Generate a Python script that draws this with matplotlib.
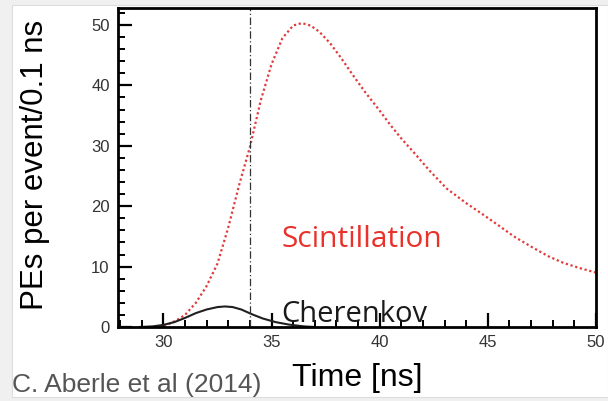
import matplotlib.pyplot as plt
from matplotlib.patches import Rectangle
from matplotlib.ticker import MultipleLocator

# scintillation pulse
scint_t = [29.8, 30.2, 30.6, 31.0, 31.5, 32.0, 32.5, 33.0, 33.5, 34.0, 34.5, 35.0,
           35.5, 36.0, 36.4, 36.8, 37.2, 37.7, 38.2, 38.7, 39.3, 40.0, 40.5, 41.0,
           41.6, 42.3, 43.1, 44.0, 44.7, 45.5, 46.2, 47.0, 47.8, 48.5, 49.2, 50.0]
scint_y = [0.0, 0.4, 1.1, 2.0, 4.0, 6.8, 10.5, 16.5, 23.5, 29.8, 37.5, 43.5,
           47.8, 49.9, 50.3, 49.9, 48.9, 47.0, 44.6, 42.0, 39.0, 35.8, 33.4, 31.2,
           28.8, 25.9, 22.9, 20.5, 18.8, 16.8, 15.0, 13.3, 11.7, 10.6, 9.8, 9.0]

# cherenkov pulse
cher_t = [28.9, 29.5, 30.0, 30.5, 31.0, 31.5, 32.0, 32.5, 32.85, 33.2, 33.6, 34.1,
          34.6, 35.2, 35.8, 36.5, 37.0]
cher_y = [0.0, 0.1, 0.35, 0.8, 1.5, 2.3, 2.9, 3.3, 3.4, 3.3, 2.9, 2.1,
          1.4, 0.8, 0.4, 0.1, 0.0]

cut_t = 34.0

fig = plt.figure(figsize=(6.08, 4.01), dpi=100)
fig.patch.set_facecolor('#f0f0f0')
fig.patches.append(Rectangle((12 / 608, 4 / 401), 596 / 608, 392 / 401,
                             transform=fig.transFigure, facecolor='white',
                             edgecolor='#dddddd', linewidth=0.8, zorder=-1))

ax = fig.add_axes([118 / 608, 74 / 401, 478 / 608, 319 / 401])
ax.set_zorder(2)
ax.plot(scint_t, scint_y, color='#e03a3a', linestyle=(0, (1, 1.2)), linewidth=1.6)
ax.plot(cher_t, cher_y, color='#202020', linewidth=1.5)
ax.axvline(cut_t, color='#333333', linewidth=0.9, linestyle=(0, (6, 2, 1, 2)))

ax.set_xlim(27.9, 50)
ax.set_ylim(0, 52.8)
ax.xaxis.set_major_locator(MultipleLocator(5))
ax.xaxis.set_minor_locator(MultipleLocator(1))
ax.yaxis.set_major_locator(MultipleLocator(10))
ax.yaxis.set_minor_locator(MultipleLocator(2))
ax.tick_params(which='both', bottom=True, left=True, direction='in', color='black')
ax.tick_params(which='major', length=10, width=1.6, pad=6,
               labelsize=12, labelcolor='#333333')
ax.tick_params(which='minor', length=5, width=1.4)
for s in ax.spines.values():
    s.set_linewidth(2)
for lab in ax.get_xticklabels() + ax.get_yticklabels():
    lab.set_family('Liberation Sans')
for tk in ax.xaxis.get_major_ticks() + ax.yaxis.get_major_ticks():
    tk.tick1line.set_visible(True)

ax.text(39.17, 13.2, 'Scintillation', color='#e8322b', fontsize=21.5,
        family='Open Sans', ha='center', va='baseline')
ax.text(38.84, 0.83, 'Cherenkov', color='#1a1a1a', fontsize=21,
        family='Open Sans', ha='center', va='baseline')

fig.text(35 / 608, 1 - 165 / 401, 'PEs per event/0.1 ns', rotation=90,
         fontsize=22.5, family='Liberation Sans', ha='center', va='center')
fig.text(357 / 608, 1 - 378 / 401, 'Time [ns]', fontsize=23,
         family='Liberation Sans', ha='center', va='center')
fig.text(12 / 608, 1 - 385 / 401, 'C. Aberle et al (2014)', fontsize=19,
         family='Liberation Sans', color='#555555', ha='left', va='center')

fig.savefig('out.png', dpi=100, facecolor=fig.get_facecolor())
